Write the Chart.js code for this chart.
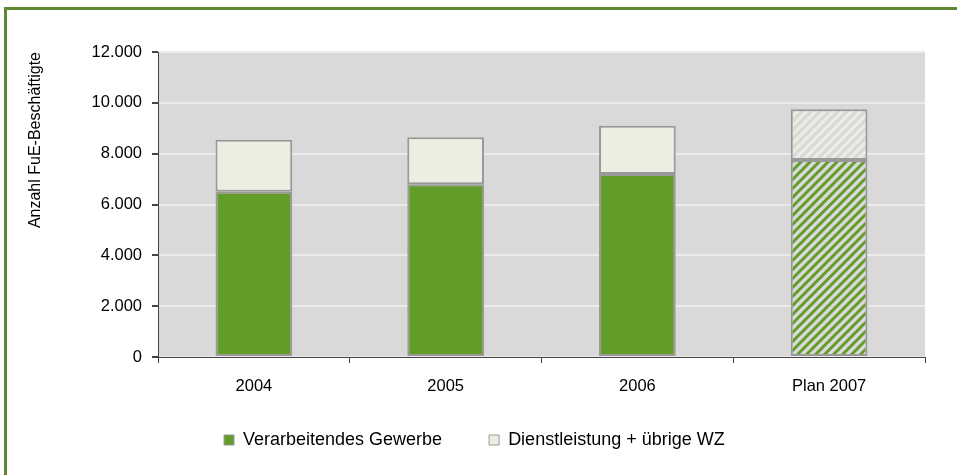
<!DOCTYPE html>
<html>
<head>
<meta charset="utf-8">
<script src="https://cdn.jsdelivr.net/npm/chart.js@4.4.1/dist/chart.umd.min.js"></script>
<style>
body { margin: 0; background: #fff; }
#frame { position: absolute; left: 4px; top: 7px; width: 970px; height: 490px;
         border-left: 3px solid #5f8832; border-top: 3px solid #5f8832; }
#wrap { position: absolute; left: 0; top: 0; width: 957px; height: 475px; }
</style>
</head>
<body>
<div id="frame"></div>
<div id="wrap"><canvas id="canvas" width="957" height="475"></canvas></div>
<script>
// values
var years = ['2004', '2005', '2006', 'Plan 2007'];
var verarbeitend = [6500, 6800, 7200, 7750];
var dienstleistung = [2050, 1850, 1900, 2000];
var yMax = 12000;
var yStep = 2000;

var green = '#629d2a';
var light = '#ebeee0';
var plotGray = '#d9d9d9';
var fontFam = 'Liberation Sans, Arial, sans-serif';

function hatch(color) {
	var c = document.createElement('canvas');
	c.width = 9; c.height = 9;
	var g = c.getContext('2d');
	g.fillStyle = plotGray;
	g.fillRect(0, 0, 9, 9);
	g.strokeStyle = color;
	g.lineWidth = 3;
	g.beginPath();
	g.moveTo(-2, 11); g.lineTo(11, -2);
	g.moveTo(-7, 7); g.lineTo(7, -7);
	g.moveTo(2, 16); g.lineTo(16, 2);
	g.stroke();
	return g.createPattern(c, 'repeat');
}

var plotBg = {
	id: 'plotBg',
	beforeDraw: function(chart) {
		var a = chart.chartArea;
		var ctx = chart.ctx;
		ctx.save();
		ctx.fillStyle = plotGray;
		ctx.fillRect(a.left, a.top, a.right - a.left, a.bottom - a.top);
		ctx.restore();
	}
};

// legend needs a wide item gap, so its box is fixed and moved by hand
var legendX = 224;
var legendPad = 47;
var legendBox = {
	id: 'legendBox',
	afterInit: function(chart) {
		var fit = chart.legend.fit;
		chart.legend.fit = function() {
			fit.call(this);
			this.height = 70;
		};
	},
	afterLayout: function(chart) {
		var lg = chart.legend;
		// centre start = (left + pad + right - lineWidth) / 2
		lg.left = 2 * legendX - legendPad - lg.right + lg.lineWidths[0];
		lg.top = 440 - legendPad - 9;
		lg.bottom = 475;
	}
};

var config = {
	type: 'bar',
	data: {
		labels: years,
		datasets: [{
			label: 'Verarbeitendes Gewerbe',
			data: verarbeitend,
			backgroundColor: [green, green, green, hatch(green)],
			borderColor: '#999999',
			borderWidth: 2,
			borderSkipped: false
		},
		{
			label: 'Dienstleistung + übrige WZ',
			data: dienstleistung,
			backgroundColor: [light, light, light, hatch(light)],
			borderColor: '#999999',
			borderWidth: 2,
			borderSkipped: false
		}]
	},
	options: {
		responsive: false,
		animation: false,
		barPercentage: 0.4,
		categoryPercentage: 1,
		layout: { padding: { left: 22, top: 52, right: 32, bottom: 0 } },
		plugins: {
			tooltip: { enabled: false },
			legend: {
				position: 'bottom',
				labels: {
					color: '#000',
					font: { family: fontFam, size: 18 },
					boxWidth: 10,
					boxHeight: 10,
					padding: legendPad,
					generateLabels: function(chart) {
						return [
							{ text: 'Verarbeitendes Gewerbe', fillStyle: green, strokeStyle: '#999999', lineWidth: 1, datasetIndex: 0 },
							{ text: 'Dienstleistung + übrige WZ', fillStyle: light, strokeStyle: '#999999', lineWidth: 1, datasetIndex: 1 }
						];
					}
				}
			}
		},
		scales: {
			x: {
				stacked: true,
				grid: { drawOnChartArea: false, drawTicks: true, tickLength: 6, color: '#444', offset: true },
				border: { color: '#444' },
				ticks: { color: '#000', padding: 14, font: { family: fontFam, size: 16.5 } },
				afterFit: function(s) { s.height = 48; }
			},
			y: {
				stacked: true,
				min: 0,
				max: yMax,
				ticks: {
					stepSize: yStep,
					color: '#000',
					padding: 10,
					font: { family: fontFam, size: 16.5 },
					callback: function(v) { return v.toLocaleString('de-DE'); }
				},
				grid: { color: '#ebebeb', lineWidth: 2, tickColor: '#444', tickLength: 6 },
				border: { color: '#444' },
				title: {
					display: true,
					text: 'Anzahl FuE-Beschäftigte',
					align: 'end',
					color: '#000',
					font: { family: fontFam, size: 16 }
				},
				afterFit: function(s) { s.width = 136; }
			}
		}
	},
	plugins: [plotBg, legendBox]
};

var ctx = document.getElementById('canvas').getContext('2d');
window.myBar = new Chart(ctx, config);
</script>
</body>
</html>
